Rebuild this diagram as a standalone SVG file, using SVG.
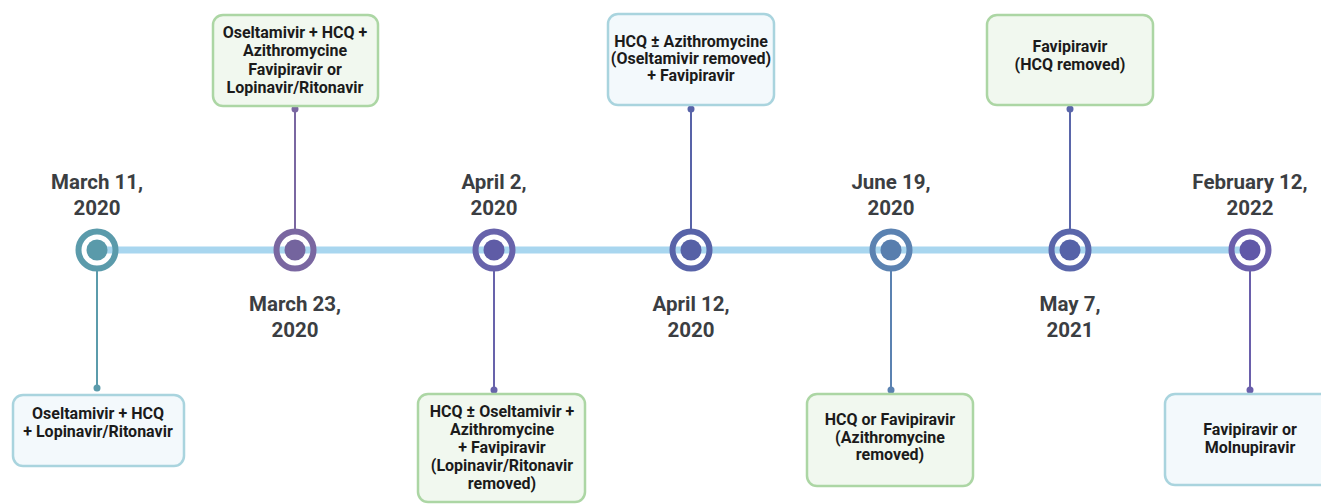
<svg xmlns="http://www.w3.org/2000/svg" width="1321" height="504" viewBox="0 0 1321 504">
<style>
.date{font-family:Roboto,"Liberation Sans",sans-serif;font-weight:700;font-size:20.5px;fill:#3b3e42;text-anchor:middle}
.bt{font-family:Roboto,"Liberation Sans",sans-serif;font-weight:700;font-size:16px;fill:#1b1b1b;text-anchor:middle}
.blue{fill:#f3f9fc;stroke:#a9d4de;stroke-width:2.5}
.green{fill:#f1f8ef;stroke:#acd6a4;stroke-width:2.5}
.ring{fill:none;stroke-width:6}
.conn{stroke-width:2;fill:none}
</style>
<rect width="1321" height="504" fill="#ffffff"/>
<line x1="88" y1="250" x2="1258" y2="250" stroke="#a8d6ef" stroke-width="7"/>
<g id="connectors">
<line class="conn" x1="97" y1="271" x2="97" y2="388" stroke="#5b9bab"/><circle cx="97" cy="388" r="3.5" fill="#5b9bab"/>
<line class="conn" x1="295" y1="229" x2="295" y2="109" stroke="#7a67a1"/><circle cx="295" cy="109" r="3.5" fill="#7a67a1"/>
<line class="conn" x1="494" y1="271" x2="494" y2="390" stroke="#6863ab"/><circle cx="494" cy="390" r="3.5" fill="#6863ab"/>
<line class="conn" x1="691" y1="229" x2="691" y2="109" stroke="#5863a8"/><circle cx="691" cy="109" r="3.5" fill="#5863a8"/>
<line class="conn" x1="891" y1="271" x2="891" y2="390" stroke="#5b82b1"/><circle cx="891" cy="390" r="3.5" fill="#5b82b1"/>
<line class="conn" x1="1070" y1="229" x2="1070" y2="109" stroke="#5a66aa"/><circle cx="1070" cy="109" r="3.5" fill="#5a66aa"/>
<line class="conn" x1="1250" y1="271" x2="1250" y2="390" stroke="#6a5fab"/><circle cx="1250" cy="390" r="3.5" fill="#6a5fab"/>
</g>
<g id="n1">
<circle class="ring" cx="97" cy="250" r="18.5" stroke="#5b9bab"/><circle cx="97" cy="250" r="10.5" fill="#5a9aaa"/>
<text class="date" x="97" y="189">March 11,</text><text class="date" x="97" y="215">2020</text>
<rect class="blue" x="13" y="395" width="171" height="71" rx="10"/>
<text class="bt" x="98" y="419">Oseltamivir + HCQ</text><text class="bt" x="98" y="437">+ Lopinavir/Ritonavir</text>
</g>
<g id="n2">
<circle class="ring" cx="295" cy="250" r="18.5" stroke="#7a67a1"/><circle cx="295" cy="250" r="10.5" fill="#74649e"/>
<text class="date" x="295" y="311">March 23,</text><text class="date" x="295" y="337">2020</text>
<rect class="green" x="213" y="15" width="165" height="91" rx="10"/>
<text class="bt" x="295" y="38">Oseltamivir + HCQ +</text><text class="bt" x="295" y="56">Azithromycine</text><text class="bt" x="295" y="75">Favipiravir or</text><text class="bt" x="295" y="93">Lopinavir/Ritonavir</text>
</g>
<g id="n3">
<circle class="ring" cx="494" cy="250" r="18.5" stroke="#6863ab"/><circle cx="494" cy="250" r="10.5" fill="#5f5ca6"/>
<text class="date" x="494" y="189">April 2,</text><text class="date" x="494" y="215">2020</text>
<rect class="green" x="418" y="394" width="167" height="108" rx="10"/>
<text class="bt" x="502" y="417">HCQ ± Oseltamivir  +</text><text class="bt" x="502" y="435">Azithromycine</text><text class="bt" x="502" y="453">+ Favipiravir</text><text class="bt" x="502" y="471">(Lopinavir/Ritonavir</text><text class="bt" x="502" y="489">removed)</text>
</g>
<g id="n4">
<circle class="ring" cx="691" cy="250" r="18.5" stroke="#5863a8"/><circle cx="691" cy="250" r="10.5" fill="#5661a6"/>
<text class="date" x="691" y="311">April 12,</text><text class="date" x="691" y="337">2020</text>
<rect class="blue" x="608" y="14" width="166" height="91" rx="10"/>
<text class="bt" x="691" y="47">HCQ ± Azithromycine</text><text class="bt" x="691" y="64">(Oseltamivir removed)</text><text class="bt" x="691" y="81">+ Favipiravir</text>
</g>
<g id="n5">
<circle class="ring" cx="891" cy="250" r="18.5" stroke="#5b82b1"/><circle cx="891" cy="250" r="10.5" fill="#587eae"/>
<text class="date" x="891" y="189">June 19,</text><text class="date" x="891" y="215">2020</text>
<rect class="green" x="807" y="394" width="166" height="92" rx="10"/>
<text class="bt" x="890" y="425">HCQ or Favipiravir</text><text class="bt" x="890" y="443">(Azithromycine</text><text class="bt" x="890" y="460">removed)</text>
</g>
<g id="n6">
<circle class="ring" cx="1070" cy="250" r="18.5" stroke="#5a66aa"/><circle cx="1070" cy="250" r="10.5" fill="#5662a8"/>
<text class="date" x="1070" y="311">May 7,</text><text class="date" x="1070" y="337">2021</text>
<rect class="green" x="987" y="15" width="166" height="90" rx="10"/>
<text class="bt" x="1070" y="52">Favipiravir</text><text class="bt" x="1070" y="70">(HCQ removed)</text>
</g>
<g id="n7">
<circle class="ring" cx="1250" cy="250" r="18.5" stroke="#6a5fab"/><circle cx="1250" cy="250" r="10.5" fill="#6058a8"/>
<text class="date" x="1250" y="189">February 12,</text><text class="date" x="1250" y="215">2022</text>
<rect class="blue" x="1165" y="394" width="170" height="91" rx="10"/>
<text class="bt" x="1250" y="435">Favipiravir or</text><text class="bt" x="1250" y="453">Molnupiravir</text>
</g>
</svg>
